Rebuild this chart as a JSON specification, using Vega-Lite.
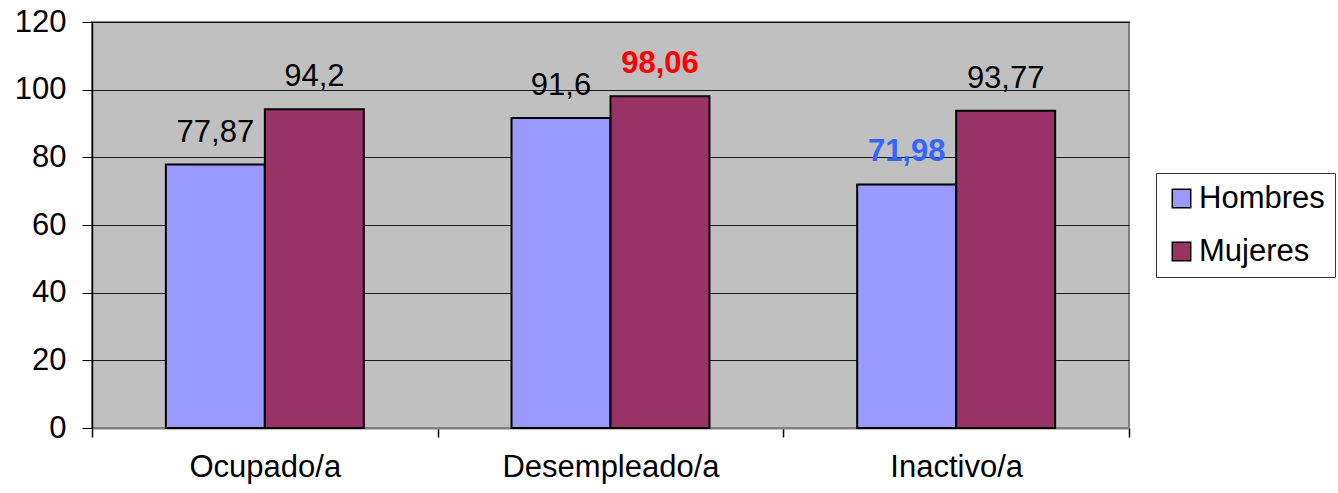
{
  "$schema": "https://vega.github.io/schema/vega-lite/v6.json",
  "width": 1037,
  "height": 406,
  "autosize": {"type": "none"},
  "padding": {"left": 92, "top": 22, "right": 209, "bottom": 65},
  "background": "white",
  "config": {
    "font": "Liberation Sans",
    "view": {"fill": "#C0C0C0", "stroke": "#808080", "strokeWidth": 2},
    "locale": {"number": {"decimal": ",", "thousands": ".", "grouping": [3], "currency": ["", " €"]}}
  },
  "data": {
    "values": [
      {"situacion": "Ocupado/a", "sexo": "Hombres", "valor": 77.87},
      {"situacion": "Ocupado/a", "sexo": "Mujeres", "valor": 94.2},
      {"situacion": "Desempleado/a", "sexo": "Hombres", "valor": 91.6},
      {"situacion": "Desempleado/a", "sexo": "Mujeres", "valor": 98.06},
      {"situacion": "Inactivo/a", "sexo": "Hombres", "valor": 71.98},
      {"situacion": "Inactivo/a", "sexo": "Mujeres", "valor": 93.77}
    ]
  },
  "encoding": {
    "x": {
      "field": "situacion",
      "type": "nominal",
      "sort": null,
      "scale": {"paddingInner": 0, "paddingOuter": 0},
      "axis": {
        "title": null,
        "labelAngle": 0,
        "labelFontSize": 31,
        "labelColor": "black",
        "labelPadding": 15,
        "labelLimit": 400,
        "tickBand": "extent",
        "tickColor": "black",
        "tickSize": 9,
        "tickWidth": 1.5,
        "domainColor": "#808080",
        "domainWidth": 2,
        "grid": false
      }
    },
    "xOffset": {"field": "sexo", "type": "nominal", "scale": {"paddingInner": 0, "paddingOuter": 0.746}},
    "y": {
      "field": "valor",
      "type": "quantitative",
      "scale": {"domain": [0, 120], "nice": false},
      "axis": {
        "title": null,
        "values": [0, 20, 40, 60, 80, 100, 120],
        "labelFontSize": 31,
        "labelColor": "black",
        "labelPadding": 16,
        "tickColor": "black",
        "tickSize": 10,
        "tickWidth": 1,
        "domainColor": "black",
        "domainWidth": 1.5,
        "gridColor": "black",
        "gridWidth": 1,
        "gridOpacity": 0.85
      }
    }
  },
  "layer": [
    {
      "mark": {"type": "bar", "stroke": "black", "strokeWidth": 2},
      "encoding": {
        "color": {
          "field": "sexo",
          "type": "nominal",
          "scale": {"domain": ["Hombres", "Mujeres"], "range": ["#9999FF", "#993366"]},
          "legend": {
            "title": null,
            "orient": "none",
            "legendX": 1064,
            "legendY": 151,
            "symbolType": "square",
            "symbolSize": 340,
            "symbolStrokeColor": "black",
            "symbolStrokeWidth": 1.5,
            "labelFontSize": 31,
            "labelColor": "black",
            "labelOffset": 2,
            "rowPadding": 21,
            "padding": 10,
            "strokeColor": "#333333",
            "fillColor": "white",
            "labelLimit": 300
          }
        }
      }
    },
    {
      "transform": [{"filter": "datum.valor != 98.06 && datum.valor != 71.98"}],
      "mark": {"type": "text", "baseline": "alphabetic", "dy": -23, "fontSize": 31, "color": "black"},
      "encoding": {
        "text": {"field": "valor", "type": "quantitative", "format": ".4~r"}
      }
    },
    {
      "transform": [{"filter": "datum.valor == 98.06 || datum.valor == 71.98"}],
      "mark": {"type": "text", "baseline": "alphabetic", "dy": -23, "fontSize": 31, "fontWeight": "bold"},
      "encoding": {
        "text": {"field": "valor", "type": "quantitative", "format": ".4~r"},
        "color": {
          "condition": {"test": "datum.valor == 98.06", "value": "#FF0000"},
          "value": "#3366FF"
        }
      }
    }
  ]
}
